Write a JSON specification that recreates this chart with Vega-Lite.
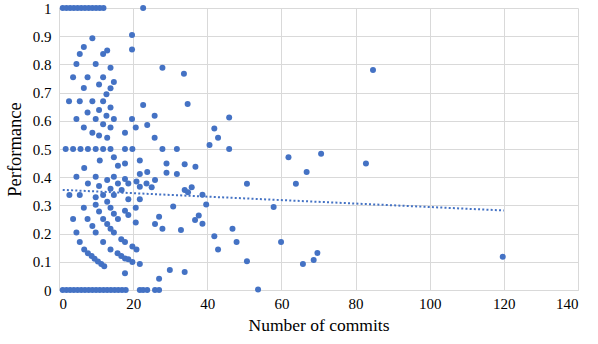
{
  "$schema": "https://vega.github.io/schema/vega-lite/v6.json",
  "width": 519,
  "height": 282,
  "autosize": {"type": "none"},
  "padding": {"left": 59, "top": 8, "right": 20, "bottom": 54},
  "config": {
    "view": {"stroke": null},
    "font": "Liberation Serif"
  },
  "datasets": {
    "points": [
      {"commits": 1, "performance": 1}, {"commits": 2, "performance": 1}, {"commits": 3, "performance": 1}, {"commits": 4, "performance": 1},
      {"commits": 5, "performance": 1}, {"commits": 6, "performance": 1}, {"commits": 7, "performance": 1}, {"commits": 8, "performance": 1},
      {"commits": 9, "performance": 1}, {"commits": 10, "performance": 1}, {"commits": 11, "performance": 1}, {"commits": 12, "performance": 1},
      {"commits": 22.7, "performance": 1},
      {"commits": 1, "performance": 0}, {"commits": 2, "performance": 0}, {"commits": 3, "performance": 0}, {"commits": 4, "performance": 0},
      {"commits": 5, "performance": 0}, {"commits": 6, "performance": 0}, {"commits": 7, "performance": 0}, {"commits": 8, "performance": 0},
      {"commits": 9, "performance": 0}, {"commits": 10, "performance": 0}, {"commits": 11, "performance": 0}, {"commits": 12, "performance": 0},
      {"commits": 13, "performance": 0}, {"commits": 14, "performance": 0}, {"commits": 15, "performance": 0}, {"commits": 16, "performance": 0},
      {"commits": 17, "performance": 0}, {"commits": 18, "performance": 0},
      {"commits": 21.8, "performance": 0}, {"commits": 22.7, "performance": 0}, {"commits": 23.8, "performance": 0},
      {"commits": 25.9, "performance": 0}, {"commits": 27.0, "performance": 0}, {"commits": 53.7, "performance": 0.002},
      {"commits": 9.0, "performance": 0.893}, {"commits": 6.7, "performance": 0.862}, {"commits": 5.6, "performance": 0.837},
      {"commits": 4.7, "performance": 0.801}, {"commits": 9.9, "performance": 0.801}, {"commits": 13.0, "performance": 0.849},
      {"commits": 11.9, "performance": 0.837}, {"commits": 13.9, "performance": 0.788}, {"commits": 3.8, "performance": 0.754},
      {"commits": 7.7, "performance": 0.754}, {"commits": 11.9, "performance": 0.754}, {"commits": 14.8, "performance": 0.738},
      {"commits": 10.8, "performance": 0.729}, {"commits": 6.7, "performance": 0.716}, {"commits": 13.9, "performance": 0.715},
      {"commits": 12.8, "performance": 0.694}, {"commits": 2.7, "performance": 0.669}, {"commits": 5.6, "performance": 0.669},
      {"commits": 9.0, "performance": 0.669}, {"commits": 11.9, "performance": 0.669}, {"commits": 13.9, "performance": 0.647},
      {"commits": 10.8, "performance": 0.638}, {"commits": 7.7, "performance": 0.629}, {"commits": 12.8, "performance": 0.618},
      {"commits": 4.7, "performance": 0.606}, {"commits": 9.9, "performance": 0.606}, {"commits": 14.8, "performance": 0.606},
      {"commits": 19.7, "performance": 0.904}, {"commits": 19.7, "performance": 0.853}, {"commits": 27.9, "performance": 0.788},
      {"commits": 33.7, "performance": 0.767}, {"commits": 22.7, "performance": 0.656}, {"commits": 19.7, "performance": 0.606},
      {"commits": 25.8, "performance": 0.618}, {"commits": 34.7, "performance": 0.660},
      {"commits": 6.7, "performance": 0.576}, {"commits": 11.9, "performance": 0.588}, {"commits": 13.9, "performance": 0.576},
      {"commits": 9.0, "performance": 0.558}, {"commits": 10.8, "performance": 0.548}, {"commits": 13.0, "performance": 0.540},
      {"commits": 17.8, "performance": 0.558}, {"commits": 20.7, "performance": 0.576}, {"commits": 23.8, "performance": 0.585},
      {"commits": 25.8, "performance": 0.540},
      {"commits": 1.8, "performance": 0.5}, {"commits": 3.8, "performance": 0.5}, {"commits": 5.8, "performance": 0.5},
      {"commits": 7.8, "performance": 0.5}, {"commits": 9.9, "performance": 0.5}, {"commits": 11.9, "performance": 0.5},
      {"commits": 13.9, "performance": 0.5}, {"commits": 17.8, "performance": 0.5}, {"commits": 19.8, "performance": 0.5},
      {"commits": 27.9, "performance": 0.5}, {"commits": 31.8, "performance": 0.5}, {"commits": 45.9, "performance": 0.5},
      {"commits": 11.0, "performance": 0.459}, {"commits": 14.8, "performance": 0.471}, {"commits": 17.8, "performance": 0.449},
      {"commits": 15.9, "performance": 0.441}, {"commits": 21.8, "performance": 0.459}, {"commits": 6.8, "performance": 0.433},
      {"commits": 29.0, "performance": 0.449}, {"commits": 33.9, "performance": 0.446}, {"commits": 36.8, "performance": 0.437},
      {"commits": 21.8, "performance": 0.411}, {"commits": 23.8, "performance": 0.418}, {"commits": 29.0, "performance": 0.416},
      {"commits": 31.8, "performance": 0.411}, {"commits": 4.7, "performance": 0.402}, {"commits": 9.9, "performance": 0.402},
      {"commits": 14.8, "performance": 0.402}, {"commits": 17.8, "performance": 0.394}, {"commits": 13.0, "performance": 0.390},
      {"commits": 25.9, "performance": 0.390}, {"commits": 7.8, "performance": 0.378}, {"commits": 10.8, "performance": 0.369},
      {"commits": 15.9, "performance": 0.378}, {"commits": 18.7, "performance": 0.378}, {"commits": 20.9, "performance": 0.385},
      {"commits": 21.8, "performance": 0.366}, {"commits": 23.6, "performance": 0.378}, {"commits": 25.0, "performance": 0.364},
      {"commits": 13.9, "performance": 0.359}, {"commits": 16.9, "performance": 0.355}, {"commits": 33.9, "performance": 0.355},
      {"commits": 35.8, "performance": 0.364}, {"commits": 34.8, "performance": 0.347}, {"commits": 2.8, "performance": 0.337},
      {"commits": 5.6, "performance": 0.337}, {"commits": 11.9, "performance": 0.337}, {"commits": 14.8, "performance": 0.337},
      {"commits": 9.9, "performance": 0.329}, {"commits": 18.7, "performance": 0.322}, {"commits": 21.8, "performance": 0.322},
      {"commits": 13.0, "performance": 0.313},
      {"commits": 6.7, "performance": 0.292}, {"commits": 9.9, "performance": 0.302}, {"commits": 13.9, "performance": 0.292},
      {"commits": 20.7, "performance": 0.292}, {"commits": 30.8, "performance": 0.296}, {"commits": 14.8, "performance": 0.270},
      {"commits": 15.9, "performance": 0.252}, {"commits": 18.7, "performance": 0.266}, {"commits": 17.8, "performance": 0.281},
      {"commits": 3.8, "performance": 0.252}, {"commits": 7.7, "performance": 0.252}, {"commits": 10.8, "performance": 0.278},
      {"commits": 11.9, "performance": 0.252}, {"commits": 20.7, "performance": 0.239}, {"commits": 25.9, "performance": 0.234},
      {"commits": 27.0, "performance": 0.260}, {"commits": 27.9, "performance": 0.217}, {"commits": 32.9, "performance": 0.213},
      {"commits": 36.7, "performance": 0.248}, {"commits": 37.7, "performance": 0.264}, {"commits": 9.0, "performance": 0.227},
      {"commits": 13.0, "performance": 0.234}, {"commits": 13.9, "performance": 0.217}, {"commits": 14.8, "performance": 0.204},
      {"commits": 4.7, "performance": 0.204}, {"commits": 9.9, "performance": 0.204}, {"commits": 5.6, "performance": 0.170},
      {"commits": 11.9, "performance": 0.170}, {"commits": 16.8, "performance": 0.180}, {"commits": 17.8, "performance": 0.170},
      {"commits": 6.8, "performance": 0.144}, {"commits": 13.9, "performance": 0.144}, {"commits": 19.8, "performance": 0.154},
      {"commits": 20.9, "performance": 0.144}, {"commits": 7.8, "performance": 0.130}, {"commits": 15.8, "performance": 0.130},
      {"commits": 16.8, "performance": 0.121}, {"commits": 17.8, "performance": 0.112}, {"commits": 18.7, "performance": 0.109},
      {"commits": 19.8, "performance": 0.099}, {"commits": 8.8, "performance": 0.121}, {"commits": 9.6, "performance": 0.111},
      {"commits": 10.5, "performance": 0.101}, {"commits": 11.4, "performance": 0.092}, {"commits": 12.2, "performance": 0.084},
      {"commits": 17.8, "performance": 0.059}, {"commits": 21.8, "performance": 0.092}, {"commits": 27.0, "performance": 0.040},
      {"commits": 29.9, "performance": 0.071}, {"commits": 33.9, "performance": 0.064},
      {"commits": 84.7, "performance": 0.780}, {"commits": 45.9, "performance": 0.612}, {"commits": 41.9, "performance": 0.573},
      {"commits": 42.9, "performance": 0.540}, {"commits": 40.6, "performance": 0.514}, {"commits": 50.7, "performance": 0.377},
      {"commits": 61.9, "performance": 0.471}, {"commits": 70.7, "performance": 0.483}, {"commits": 66.8, "performance": 0.418},
      {"commits": 63.9, "performance": 0.377}, {"commits": 82.8, "performance": 0.449}, {"commits": 38.7, "performance": 0.338},
      {"commits": 39.7, "performance": 0.303}, {"commits": 57.9, "performance": 0.294}, {"commits": 38.7, "performance": 0.235},
      {"commits": 46.8, "performance": 0.217}, {"commits": 41.9, "performance": 0.191}, {"commits": 47.9, "performance": 0.170},
      {"commits": 42.9, "performance": 0.144}, {"commits": 50.7, "performance": 0.102}, {"commits": 59.9, "performance": 0.170},
      {"commits": 69.7, "performance": 0.131}, {"commits": 68.7, "performance": 0.106}, {"commits": 65.8, "performance": 0.092},
      {"commits": 119.7, "performance": 0.118}
    ],
    "trend": [
      {"commits": 1, "performance": 0.355},
      {"commits": 120, "performance": 0.282}
    ]
  },
  "encoding": {
    "x": {
      "field": "commits", "type": "quantitative",
      "scale": {"domain": [0, 140], "nice": false, "zero": true},
      "axis": {
        "values": [0, 20, 40, 60, 80, 100, 120, 140], "format": "d",
        "title": "Number of commits", "labelPadding": 6, "titlePadding": 5,
        "labelFont": "Liberation Serif", "labelFontSize": 15, "labelColor": "#000000", "labelOverlap": false,
        "titleFont": "Liberation Serif", "titleFontSize": 17.5, "titleFontWeight": "normal", "titleColor": "#000000",
        "gridColor": "#d9d9d9", "domainColor": "#d9d9d9", "ticks": false,
        "encode": {"labels": {"update": {"font": {"value": "Liberation Serif"}, "fontSize": {"value": 15}}}}
      }
    },
    "y": {
      "field": "performance", "type": "quantitative",
      "scale": {"domain": [0, 1], "nice": false},
      "axis": {
        "values": [0, 0.1, 0.2, 0.3, 0.4, 0.5, 0.6, 0.7, 0.8, 0.9, 1], "format": ".1~f",
        "title": "Performance", "labelPadding": 8, "titlePadding": 8,
        "labelFont": "Liberation Serif", "labelFontSize": 15, "labelColor": "#000000", "labelOverlap": false,
        "titleFont": "Liberation Serif", "titleFontSize": 18.5, "titleFontWeight": "normal", "titleColor": "#000000",
        "gridColor": "#d9d9d9", "domainColor": "#d9d9d9", "ticks": false,
        "encode": {"labels": {"update": {"font": {"value": "Liberation Serif"}, "fontSize": {"value": 15}}}}
      }
    }
  },
  "layer": [
    {
      "data": {"name": "trend"},
      "mark": {"type": "line", "color": "#4472C4", "strokeWidth": 2, "strokeDash": [2, 2.2], "clip": false}
    },
    {
      "data": {"name": "points"},
      "mark": {"type": "circle", "color": "#4472C4", "opacity": 1, "size": 36, "clip": false}
    }
  ]
}
